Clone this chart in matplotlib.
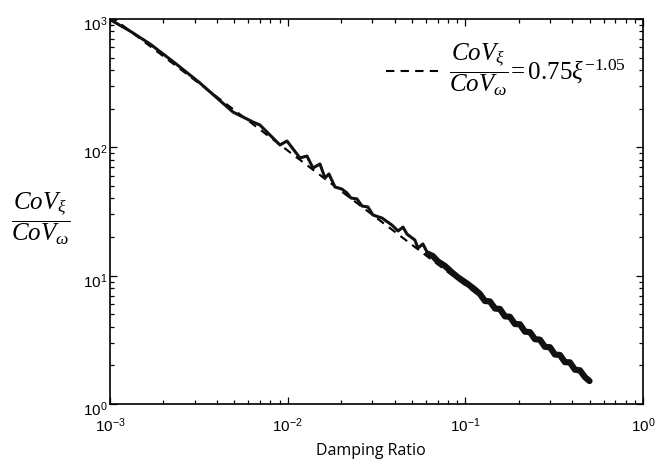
import numpy as np
import matplotlib
matplotlib.use('Agg')
import matplotlib.pyplot as plt
import matplotlib.ticker as mticker
import matplotlib.transforms as mtransforms

# --------------- data ---------------------------------------------
damping = [0.0010, 0.001296, 0.00168, 0.00232, 0.00321, 0.00492, 0.00638, 0.00698, 0.00795, 0.00905, 0.00991,
           0.01173, 0.01284, 0.01388, 0.0152, 0.01621, 0.01708, 0.01846, 0.0202, 0.02156, 0.0227, 0.02455, 0.0262,
           0.0283, 0.0302, 0.0340, 0.0386, 0.0418, 0.0446, 0.0469, 0.0520, 0.0541, 0.0577, 0.0616, 0.0657, 0.0701,
           0.0768, 0.0841, 0.0909, 0.1021, 0.1132, 0.1208, 0.1289, 0.1375, 0.1468, 0.1566, 0.1671, 0.1782, 0.1902,
           0.2029, 0.2165, 0.2310, 0.2464, 0.2629, 0.2805, 0.2993, 0.3193, 0.3407, 0.3635, 0.3879, 0.4139, 0.4415,
           0.4711, 0.500]
cov_ratio = [990, 806, 639, 454, 317, 188.5, 157.5, 149.3, 124.8, 104.3, 112.0,
             82.6, 85.6, 69.0, 74.2, 57.7, 62.0, 49.1, 47.3, 44.1, 40.3, 39.6, 34.9,
             34.3, 29.7, 28.1, 24.8, 22.3, 23.9, 21.1, 18.96, 16.4, 17.65, 14.8, 14.2, 12.9,
             11.9, 10.6, 9.7, 8.7, 7.8, 7.2, 6.35, 6.3, 5.55, 5.5, 4.82, 4.78, 4.2,
             4.18, 3.66, 3.63, 3.2, 3.17, 2.79, 2.77, 2.43, 2.41, 2.12, 2.11, 1.85, 1.83,
             1.62, 1.51]
# from here on the measured curve is a dense, noisy band
band_start = 0.06

# fitted power law  CoV_xi / CoV_w = a * xi^b
fit_coef = 0.75
fit_exp = -1.05
fit_range = [0.001, 0.5]

# --------------- fonts --------------------------
plt.rcParams.update({
    'font.family': 'Liberation Sans',
    'mathtext.fontset': 'custom',
    'mathtext.rm': 'Liberation Serif',
    'mathtext.it': 'Liberation Serif:italic',
    'mathtext.bf': 'Liberation Serif:bold',
    'mathtext.sf': 'Liberation Sans',
})

fig = plt.figure(figsize=(6.65, 4.65), dpi=100)
ax = fig.add_axes([110/665, 1 - 404/465, 533/665, 385/465])

xf = np.array(fit_range)
yf = fit_coef * xf**fit_exp
fit_label = r'$\dfrac{CoV_{\xi}}{CoV_{\omega}}\!=0.75\xi^{-1.05}$'
h_fit, = ax.plot(xf, yf, color='k', lw=1.5, linestyle=(0, (4, 3)), label=fit_label)

x = np.array(damping)
y = np.array(cov_ratio)
ax.plot(x, y, color='#111111', lw=2.2, solid_joinstyle='round')
band = x >= band_start
ax.plot(x[band], y[band], color='#111111', lw=4.5, solid_joinstyle='round', solid_capstyle='round')

ax.set_xscale('log')
ax.set_yscale('log')
ax.set_xlim(1e-3, 1)
ax.set_ylim(1, 1e3)

fmt = mticker.FuncFormatter(lambda v, pos: r'$\mathsf{10^{%d}}$' % int(round(np.log10(v))))
for axis in (ax.xaxis, ax.yaxis):
    axis.set_major_formatter(fmt)
    axis.set_minor_formatter(mticker.NullFormatter())

ax.tick_params(which='both', direction='in', top=True, right=True, width=0.9, colors='k')
ax.tick_params(which='major', length=5)
ax.tick_params(which='minor', length=3)
ax.tick_params(axis='x', which='major', pad=9, labelsize=11)
ax.tick_params(axis='y', which='major', pad=2, labelsize=11)
for s in ax.spines.values():
    s.set_linewidth(1.2)

# y tick labels sit a little below their ticks in the original
shift = mtransforms.ScaledTranslation(0, -3/72, fig.dpi_scale_trans)
for lab in ax.get_yticklabels():
    lab.set_transform(lab.get_transform() + shift)

ax.set_xlabel('Damping Ratio', fontfamily='Open Sans', fontsize=11.5)
ax.xaxis.set_label_coords(0.49, -0.10)
ax.set_ylabel(r'$\dfrac{CoV_{\xi}}{CoV_{\omega}}$', rotation=0, fontsize=18, ha='center', va='center')
ax.yaxis.set_label_coords(-0.13, 0.48)

ax.legend(handles=[h_fit], loc='upper right', bbox_to_anchor=(1.01, 1.0), frameon=False,
          fontsize=18, handlelength=2.3, handletextpad=0.2)

fig.savefig('out.png', dpi=100)
